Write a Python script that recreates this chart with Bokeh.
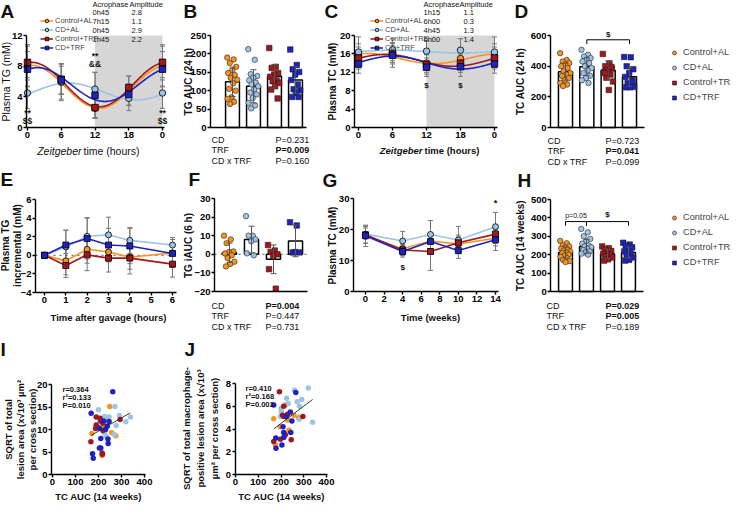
import numpy as np
from bokeh.plotting import figure
from bokeh.models import (Range1d, FixedTicker, Label, Legend, LegendItem, Whisker,
                          TeeHead, ColumnDataSource, BoxAnnotation, LinearAxis)
from bokeh.embed import file_html
from bokeh.resources import INLINE

FONT = "Liberation Sans"

GROUPS = ["Control+AL", "CD+AL", "Control+TRF", "CD+TRF"]
COLORS = ["#F7931E", "#9DC3E6", "#A3171B", "#1E22C0"]
MARKERS = ["circle", "circle", "square", "square"]
STAT_TERMS = ["CD", "TRF", "CD x TRF"]

# ---- A: plasma TG over the day ----
ZT = [0, 6, 12, 18, 24]
ZT_TICK_LABELS = ["0", "6", "12", "18", "0"]
TG_ZT_MEAN = [[8.0, 5.9, 2.5, 4.8, 8.0],
              [4.5, 6.0, 5.0, 3.8, 4.5],
              [8.5, 6.3, 2.6, 5.2, 8.5],
              [7.6, 6.2, 4.2, 4.3, 7.6]]
TG_ZT_SD = [[2.6, 2.4, 1.2, 1.9, 2.6],
            [2.0, 2.3, 2.2, 1.6, 2.0],
            [2.3, 2.0, 1.4, 1.5, 2.3],
            [2.3, 1.8, 3.0, 1.4, 2.3]]
TG_MESOR = [5.3, 4.7, 5.6, 5.6]
TG_AMP = [2.8, 1.1, 2.9, 2.2]
TG_ACRO = ["0h45", "7h15", "0h45", "1h45"]

# ---- B: TG AUC (24 h) ----
TG_AUC24_PTS = [[190, 185, 175, 165, 155, 148, 143, 135, 130, 120, 105, 100, 82, 78, 70, 64],
                [213, 184, 145, 140, 135, 128, 122, 117, 112, 103, 95, 90, 80, 67, 60, 52],
                [216, 165, 162, 148, 144, 138, 128, 126, 121, 112, 103, 79],
                [212, 170, 158, 151, 144, 129, 117, 104, 101, 94, 83, 83]]
TG_AUC24_MEAN = [124, 112, 139, 129]
TG_AUC24_SD = [40, 45, 32, 36]
TG_AUC24_P = [0.231, 0.009, 0.160]

# ---- C: plasma TC over the day ----
TC_ZT_MEAN = [[15.7, 16.3, 14.0, 15.0, 15.7],
              [16.4, 16.9, 16.6, 16.8, 16.4],
              [15.1, 16.0, 13.7, 14.0, 15.1],
              [13.8, 15.7, 13.1, 13.2, 13.8]]
TC_ZT_SD = [[2.5, 2.2, 2.0, 2.3, 2.5],
            [3.3, 2.4, 2.3, 2.5, 3.3],
            [2.4, 2.2, 2.1, 2.0, 2.4],
            [2.0, 2.6, 2.0, 2.1, 2.0]]
TC_MESOR = [15.0, 16.5, 14.6, 14.1]
TC_AMP = [1.1, 0.3, 1.3, 1.4]
TC_ACRO = ["1h15", "6h00", "4h45", "6h00"]

# ---- D: TC AUC (24 h) ----
TC_AUC24_PTS = [[485, 440, 430, 420, 410, 400, 388, 366, 355, 345, 336, 322, 310, 290, 280, 270],
                [507, 475, 463, 453, 442, 431, 420, 400, 388, 372, 355, 338, 323, 308, 290],
                [480, 418, 400, 385, 375, 360, 345, 325, 300, 245, 355, 395],
                [460, 458, 400, 380, 355, 330, 310, 290, 265, 262, 262, 300]]
TC_AUC24_MEAN = [364, 396, 372, 331]
TC_AUC24_SD = [55, 58, 62, 62]
TC_AUC24_P = [0.723, 0.041, 0.099]

# ---- E: incremental TG after gavage ----
HOURS = [0, 1, 2, 3, 4, 6]
TG_INC_MEAN = [[0, -0.6, 0.65, 0.35, -0.2, 0.25],
               [0, 0.9, 2.05, 2.2, 1.6, 1.1],
               [0, -1.1, 0.05, -0.3, -0.3, -0.95],
               [0, 1.1, 1.8, 1.1, 1.0, 0.2]]
TG_INC_SD = [[0, 1.5, 1.5, 1.0, 1.3, 1.0],
             [0, 1.8, 2.0, 1.9, 1.4, 0.8],
             [0, 1.3, 1.7, 1.5, 1.7, 1.4],
             [0, 1.6, 2.2, 1.8, 1.9, 1.5]]

# ---- F: TG iAUC (6 h) ----
TG_IAUC_PTS = [[10, 8, 6, 1.5, 1.2, 0.4, -0.5, -2, -4, -5.2, -6.5],
               [20.5, 10, 10, 8, 7, 0.5, -0.5],
               [5, 2, 1.3, 0, -0.9, -8, -18.5],
               [17.2, 15.5, 1, 1, 1.2]]
TG_IAUC_MEAN = [0.8, 7.9, -2.7, 7.2]
TG_IAUC_SD = [5.2, 7.2, 7.7, 8.5]
TG_IAUC_P = [0.004, 0.447, 0.731]

# ---- G: plasma TC over weeks ----
WEEKS = [0, 4, 7, 10, 14]
TC_WK_MEAN = [[17.8, 13.8, 16.3, 15.3, 17.2],
              [18.5, 16.3, 18.4, 16.6, 20.9],
              [18.3, 13.4, 12.9, 15.7, 18.5],
              [18.0, 12.9, 16.1, 13.2, 16.7]]
TC_WK_SD = [[3.3, 2.0, 2.5, 2.3, 2.5],
            [2.9, 3.1, 4.5, 4.4, 4.6],
            [2.8, 1.8, 6.1, 2.5, 3.0],
            [2.5, 1.8, 2.4, 2.5, 3.5]]

# ---- H: TC AUC (14 weeks) ----
TC_AUC14_PTS = [[275, 262, 250, 245, 238, 232, 228, 222, 218, 212, 208, 200, 195, 188, 180, 172, 165, 160],
                [340, 322, 300, 286, 272, 260, 250, 245, 240, 232, 225, 218, 212, 206, 200],
                [245, 235, 228, 220, 212, 205, 198, 192, 185, 175, 168],
                [265, 255, 248, 240, 230, 218, 208, 200, 185, 172, 168]]
TC_AUC14_MEAN = [212, 245, 205, 212]
TC_AUC14_SD = [30, 38, 25, 30]
TC_AUC14_P = [0.029, 0.005, 0.189]

# ---- I: total lesion area vs TC AUC ----
I_X = [[249, 233, 171, 257, 275, 216, 240, 222],
       [200, 272, 291, 339, 319, 277, 226, 246, 225, 233, 268, 205],
       [190, 207, 210, 219, 190, 196, 219, 294, 167, 216, 217, 187],
       [262, 168, 222, 246, 204, 238, 210, 241, 204, 210, 242, 174, 177, 231]]
I_Y = [[15.1, 12.1, 9.1, 9.3, 8.6, 4.2, 12.5, 11.0],
       [14.4, 15.1, 13.1, 12.8, 11.7, 10.9, 12.9, 12.8, 9.2, 8.5, 8.9, 11.8],
       [12.8, 12.5, 11.9, 11.4, 11.0, 10.5, 9.8, 12.2, 7.3, 4.8, 4.5, 10.2],
       [18.4, 13.6, 11.9, 11.8, 10.3, 10.7, 8.0, 7.9, 5.9, 5.9, 6.9, 4.6, 3.6, 10.0]]
I_FIT = [3.76, 0.0294]
I_FIT_X = [168, 338]
I_STATS = ["r=0.364", "r²=0.133", "P=0.010"]

# ---- J: macrophage-positive lesion area vs TC AUC ----
J_X = [[168, 197, 229, 277, 235, 175, 219, 257],
       [259, 320, 232, 271, 291, 200, 201, 197, 281, 280, 339, 225],
       [193, 212, 212, 229, 219, 168, 197, 245, 296, 207],
       [265, 168, 241, 223, 248, 209, 212, 243, 212, 177, 204, 178]]
J_Y = [[4.9, 4.2, 4.8, 5.0, 3.9, 2.6, 6.1, 5.2],
       [7.4, 7.6, 6.25, 6.4, 6.6, 5.8, 5.5, 5.1, 6.0, 4.85, 4.6, 6.7],
       [7.27, 6.0, 5.1, 5.3, 3.5, 2.9, 3.1, 3.05, 5.1, 5.2],
       [7.2, 6.1, 5.5, 5.1, 4.7, 4.2, 3.7, 3.7, 3.25, 3.2, 2.6, 2.3]]
J_FIT = [1.45, 0.0152]
J_FIT_X = [168, 339]
J_STATS = ["r=0.410", "r²=0.168", "P=0.003"]

# ------------------------------------------------------------------
W, H = 731, 502          # canvas; page pixel (ix, iy) -> canvas (ix-8, 510-iy)
p = figure(width=W, height=H, x_range=Range1d(0, W), y_range=Range1d(0, H),
           x_axis_type=None, y_axis_type=None, output_backend="svg",
           toolbar_location=None, min_border=0)
p.outline_line_color = None
p.background_fill_color = "white"
p.border_fill_color = "white"


def T(ix, iy, s, size=9.0, style="normal", align="left", baseline="middle", angle=0.0,
      color="#111111"):
    p.add_layout(Label(x=ix - 8, y=510 - iy, text=s, text_font=FONT,
                       text_font_size=f"{size}px", text_font_style=style,
                       text_align=align, text_baseline=baseline, angle=angle,
                       text_color=color))


def VT(ix, iy, s, size=10.0, style="bold"):
    T(ix, iy, s, size=size, style=style, align="center", baseline="middle", angle=np.pi / 2)


class Panel:
    """A sub-plot: its own x/y scales, mapped onto a region of the page."""

    def __init__(self, name, xa, ya):
        d0, px0, d1, px1 = xa
        self.sx = (px1 - px0) / (d1 - d0)
        self.dx0, self.px0 = d0, px0
        xs = d0 - (px0 - 8) / self.sx
        e0, py0, e1, py1 = ya
        self.sy = (py0 - py1) / (e1 - e0)
        self.dy0, self.py0 = e0, py0
        ys = e0 - (510 - py0) / self.sy
        p.extra_x_ranges[name + "x"] = Range1d(xs, xs + W / self.sx)
        p.extra_y_ranges[name + "y"] = Range1d(ys, ys + H / self.sy)
        self.kw = dict(x_range_name=name + "x", y_range_name=name + "y")

    def x(self, v):
        return self.px0 + (v - self.dx0) * self.sx

    def y(self, v):
        return self.py0 - (v - self.dy0) * self.sy


def style_axis(ax, ticks, overrides=None, tick_size=9.5):
    ax.axis_line_color = "black"
    ax.axis_line_width = 1.4
    ax.major_tick_line_color = "black" if ticks else None
    ax.major_tick_line_width = 1.4
    ax.major_tick_out = 3
    ax.major_tick_in = 0
    ax.minor_tick_line_color = None
    ax.major_label_text_font = FONT
    ax.major_label_text_font_style = "bold"
    ax.major_label_text_font_size = f"{tick_size}px"
    ax.major_label_text_color = "black"
    ax.major_label_standoff = 1
    ax.ticker = FixedTicker(ticks=list(ticks))
    if overrides:
        ax.major_label_overrides = overrides


def axes(P, xticks, xbounds, x_at, yticks, ybounds, y_at, xover=None):
    xa = LinearAxis(fixed_location=x_at, bounds=xbounds, **P.kw)
    style_axis(xa, xticks, xover)
    p.add_layout(xa, "below")
    ya = LinearAxis(fixed_location=y_at, bounds=ybounds, **P.kw)
    style_axis(ya, yticks)
    p.add_layout(ya, "left")


def whiskers(P, xs, means, sds, color="#777777", level="underlay", head=5):
    src = ColumnDataSource(dict(x=list(xs),
                                up=[m + s for m, s in zip(means, sds)],
                                lo=[m - s for m, s in zip(means, sds)]))
    p.add_layout(Whisker(source=src, base="x", upper="up", lower="lo", level=level,
                         line_color=color, line_width=1,
                         upper_head=TeeHead(size=head, line_color=color, line_width=1),
                         lower_head=TeeHead(size=head, line_color=color, line_width=1),
                         **P.kw))


def acro_hours(s):
    h, m = s.split("h")
    return int(h) + int(m) / 60.0


def time_panel(P, xs, means, sds, fits=None, msize=6.5):
    for i in range(len(GROUPS)):
        whiskers(P, xs, means[i], sds[i])
    lines = []
    for i in range(len(GROUPS)):
        if fits:
            mes, amp, acro = fits[0][i], fits[1][i], acro_hours(fits[2][i])
            t = np.linspace(0, 24, 241)
            r = p.line(t, mes + amp * np.cos(2 * np.pi * (t - acro) / 24.0),
                       line_color=COLORS[i], line_width=1.6, **P.kw)
        else:
            r = p.line(xs, means[i], line_color=COLORS[i], line_width=1.6, **P.kw)
        lines.append(r)
    marks = []
    for i in range(len(GROUPS)):
        marks.append(p.scatter(x=xs, y=means[i], marker=MARKERS[i], size=msize,
                               fill_color=COLORS[i], line_color="black", line_width=0.8,
                               **P.kw))
    return lines, marks


def bar_panel(P, pts, mean, sd, width=0.66):
    pos = [i + 1 for i in range(len(GROUPS))]
    p.vbar(x=pos, top=mean, bottom=0, width=width, fill_color="white",
           line_color="black", line_width=1.5, **P.kw)
    rends = []
    for i in range(len(GROUPS)):
        n = len(pts[i])
        offs = ((np.arange(n) * 0.618034) % 1.0 - 0.5) * 0.5
        rends.append(p.scatter(x=pos[i] + offs, y=pts[i], marker=MARKERS[i], size=5.5,
                               fill_color=COLORS[i], line_color="#222222", line_width=0.6,
                               **P.kw))
    whiskers(P, pos, mean, sd, color="#555555", level="annotation", head=6)
    return rends


def stats(x_name, x_p, ys, pvals):
    for term, pv, yy in zip(STAT_TERMS, pvals, ys):
        T(x_name, yy, term, size=9)
        T(x_p, yy, f"P={pv:.3f}", size=9, style="bold" if pv < 0.05 else "normal")


# Legend placement: measured offset of the legend box vs. its nominal location
LEG_DX, LEG_DY = 8, 9


def make_legend(items, left, bottom, row_h, glyph_w, standoff, font_size, label_w):
    leg = Legend(items=items, location=(left - 8 + LEG_DX, 510 - bottom - LEG_DY),
                 orientation="vertical",
                 label_text_font=FONT, label_text_font_size=f"{font_size}px",
                 label_height=row_h, glyph_height=row_h, glyph_width=glyph_w,
                 label_width=label_w,
                 label_standoff=standoff, spacing=0, padding=0, margin=0,
                 border_line_color=None, background_fill_alpha=0)
    p.add_layout(leg)


def bracket(P, i, j, level, drop):
    p.line([i + 1, i + 1, j + 1, j + 1], [level - drop, level, level, level - drop],
           line_color="black", line_width=1, **P.kw)


def zero_line(P, x0, x1):
    p.line([x0, x1], [0, 0], line_color="#555555", line_width=1, line_dash="dotted", **P.kw)


LEG_FONT = 7.5

# ================= A =================
A = Panel("A", (0, 35, 24, 170), (0, 135, 12, 43))
p.add_layout(BoxAnnotation(left=12, right=24, bottom=0, top=12, fill_color="#d6d6d6",
                           fill_alpha=1, line_color=None, level="underlay", **A.kw))
a_lines, a_marks = time_panel(A, ZT, TG_ZT_MEAN, TG_ZT_SD, fits=(TG_MESOR, TG_AMP, TG_ACRO))
axes(A, ZT, (-0.15, 24.35), 0, [0, 4, 8, 12], (0, 12), -0.15, dict(zip(ZT, ZT_TICK_LABELS)))
LEG_ROWS = [19.5, 28.5, 37.5, 46.5]
make_legend([LegendItem(label=g, renderers=[a_lines[i], a_marks[i]])
             for i, g in enumerate(GROUPS)], 40, 51, 9, 13, 2, LEG_FONT, 58)
T(100, 11.5, "Acrophase", size=LEG_FONT)
T(137, 11.5, "Amplitude", size=LEG_FONT)
for k, yy in enumerate(LEG_ROWS):
    T(100, yy, TG_ACRO[k], size=LEG_FONT)
    T(139, yy, f"{TG_AMP[k]:.1f}", size=LEG_FONT)
for xv, y1, y2, s1, s2 in [(0, 120, 128, "**", "$$"), (12, 63, 71, "**", "&&"),
                           (24, 120, 128, "**", "$$")]:
    T(A.x(xv), y1, s1, size=8.5, style="bold", align="center")
    T(A.x(xv), y2, s2, size=8.5, style="bold", align="center")
T(89, 158, "Zeitgeber", size=10.5, style="italic", align="right")
T(91, 158, "time (hours)", size=10.5, align="left")
VT(13, 89, "Plasma TG (mM)", size=10.5, style="normal")
T(8, 8, "A", size=19, style="bold", baseline="top")

# ================= B =================
B = Panel("B", (1, 240, 4, 303), (0, 135, 250, 43))
bar_panel(B, TG_AUC24_PTS, TG_AUC24_MEAN, TG_AUC24_SD)
axes(B, [], (-0.05, 4.52), 0, [0, 50, 100, 150, 200, 250], (0, 250), -0.05)
stats(219, 283, [147, 157.5, 168], TG_AUC24_P)
VT(196, 89, "TG AUC (24 h)")
T(191, 8, "B", size=19, style="bold", baseline="top")

# ================= C =================
C = Panel("C", (0, 366, 24, 502), (0, 135, 20, 43))
p.add_layout(BoxAnnotation(left=12, right=24, bottom=0, top=20, fill_color="#d6d6d6",
                           fill_alpha=1, line_color=None, level="underlay", **C.kw))
c_lines, c_marks = time_panel(C, ZT, TC_ZT_MEAN, TC_ZT_SD, fits=(TC_MESOR, TC_AMP, TC_ACRO))
axes(C, ZT, (-0.7, 24.5), 0, [0, 4, 8, 12, 16, 20], (0, 20), -0.7,
     dict(zip(ZT, ZT_TICK_LABELS)))
make_legend([LegendItem(label=g, renderers=[c_lines[i], c_marks[i]])
             for i, g in enumerate(GROUPS)], 370, 51, 9, 13, 2, LEG_FONT, 58)
T(431, 11.5, "Acrophase", size=LEG_FONT)
T(467, 11.5, "Amplitude", size=LEG_FONT)
for k, yy in enumerate(LEG_ROWS):
    T(431, yy, TC_ACRO[k], size=LEG_FONT)
    T(471, yy, f"{TC_AMP[k]:.1f}", size=LEG_FONT)
for xv in (12, 18):
    T(C.x(xv), 93, "$", size=8, style="bold", align="center")
T(430, 158, "Zeitgeber", size=9.5, style="bold italic", align="right")
T(432, 158, "time (hours)", size=9.5, style="bold", align="left")
VT(340, 89, "Plasma TC (mM)")
T(332, 8, "C", size=19, style="bold", baseline="top")

# ================= D =================
D = Panel("D", (1, 573, 4, 637), (0, 135, 600, 43))
d_marks = bar_panel(D, TC_AUC24_PTS, TC_AUC24_MEAN, TC_AUC24_SD)
axes(D, [], (0.3, 4.7), 0, [0, 200, 400, 600], (0, 600), 0.3)
bracket(D, 1, 3, 572, 28)
T(D.x(3), 42, "$", size=8, style="bold", align="center")
make_legend([LegendItem(label=g, renderers=[d_marks[i]]) for i, g in enumerate(GROUPS)],
            669, 103.5, 15, 10, 4, 9.2, 66)
stats(555, 613, [148, 158.5, 169], TC_AUC24_P)
VT(528, 89, "TC AUC (24 h)")
T(522, 8, "D", size=19, style="bold", baseline="top")

# ================= E =================
E = Panel("E", (0, 52, 6, 180), (-4, 300, 6, 207))
zero_line(E, -0.42, 6.2)
time_panel(E, HOURS, TG_INC_MEAN, TG_INC_SD, msize=6)
axes(E, [0, 1, 2, 3, 4, 5, 6], (-0.42, 6.2), -4, [-4, -2, 0, 2, 4, 6], (-4, 6), -0.42)
T(116, 325, "Time after gavage (hours)", size=9.5, style="bold", align="center")
VT(13, 253, "Plasma TG")
VT(25, 253, "incremental (mM)")
T(8, 176, "E", size=19, style="bold", baseline="top")

# ================= F =================
F = Panel("F", (1, 237, 4, 303), (-20, 299, 30, 206))
zero_line(F, 0.32, 4.55)
bar_panel(F, TG_IAUC_PTS, TG_IAUC_MEAN, TG_IAUC_SD, width=0.64)
axes(F, [], (0.32, 4.55), -20, [-20, -10, 0, 10, 20, 30], (-20, 30), 0.32)
stats(219, 273, [313, 323.5, 334], TG_IAUC_P)
VT(196, 253, "TG iAUC (6 h)")
T(196, 176, "F", size=19, style="bold", baseline="top")

# ================= G =================
G = Panel("G", (0, 373, 14, 503), (0, 299, 30, 206))
time_panel(G, WEEKS, TC_WK_MEAN, TC_WK_SD, msize=6)
axes(G, [0, 2, 4, 6, 8, 10, 12, 14], (-1.3, 14.3), 0, [0, 10, 20, 30], (0, 30), -1.3)
T(G.x(4), 275, "$", size=8, style="bold", align="center")
T(G.x(14), 210, "*", size=9, style="bold", align="center")
T(438, 325, "Time (weeks)", size=9.5, style="bold", align="center")
VT(340, 253, "Plasma TC (mM)")
T(330, 177, "G", size=19, style="bold", baseline="top")

# ================= H =================
Hp = Panel("H", (1, 573, 4, 636), (0, 299, 500, 207))
h_marks = bar_panel(Hp, TC_AUC14_PTS, TC_AUC14_MEAN, TC_AUC14_SD)
axes(Hp, [], (0.3, 4.7), 0, [0, 100, 200, 300, 400, 500], (0, 500), 0.3)
bracket(Hp, 0, 1, 380, 22)
bracket(Hp, 1, 3, 380, 22)
T(Hp.x(1.5), 223, "p=0.05", size=7, align="center")
T(Hp.x(3), 222, "$", size=8, style="bold", align="center")
make_legend([LegendItem(label=g, renderers=[h_marks[i]]) for i, g in enumerate(GROUPS)],
            669, 268.5, 15, 10, 4, 9.2, 66)
stats(554, 613, [313, 323.5, 334], TC_AUC14_P)
VT(528, 253, "TC AUC (14 weeks)")
T(525, 177, "H", size=19, style="bold", baseline="top")


# ================= I, J =================
def scatter_panel(P, xs, ys, fit, fit_x, stat_lines, sx, sy0):
    for i in range(len(GROUPS)):
        p.scatter(x=xs[i], y=ys[i], marker="circle", size=5.5, fill_color=COLORS[i],
                  line_color=None, **P.kw)
    fx = np.array(fit_x, dtype=float)
    p.line(fx, fit[0] + fit[1] * fx, line_color="#222222", line_width=0.9, **P.kw)
    for k, s in enumerate(stat_lines):
        T(sx, sy0 + 8 * k, s, size=7.5, style="bold")


I = Panel("I", (0, 60, 400, 152), (0, 482, 20, 392))
scatter_panel(I, I_X, I_Y, I_FIT, I_FIT_X, I_STATS, 70, 397)
axes(I, [0, 100, 200, 300, 400], (-4, 404), 0, [0, 5, 10, 15, 20], (0, 20), -4)
T(106, 504, "TC AUC (14 weeks)", size=9.5, style="bold", align="center")
VT(16, 437, "SQRT of total", size=9.5)
VT(28, 437, "lesion area (x√10³ µm²", size=9.5)
VT(40, 437, "per cross section)", size=9.5)
T(8, 346, "I", size=19, style="bold", baseline="top")

J = Panel("J", (0, 243, 400, 334), (0, 482, 8, 391))
scatter_panel(J, J_X, J_Y, J_FIT, J_FIT_X, J_STATS, 253, 396)
axes(J, [0, 100, 200, 300, 400], (-2, 404), 0, [0, 2, 4, 6, 8], (0, 8), -2)
T(289, 504, "TC AUC (14 weeks)", size=9.5, style="bold", align="center")
VT(194, 436, "SQRT of total macrophage-", size=9.5)
VT(208, 436, "positive lesion area (x√10³", size=9.5)
VT(222, 436, "µm² per cross section)", size=9.5)
T(192, 346, "J", size=19, style="bold", baseline="top")

open("out.html", "w").write(file_html(p, INLINE))
